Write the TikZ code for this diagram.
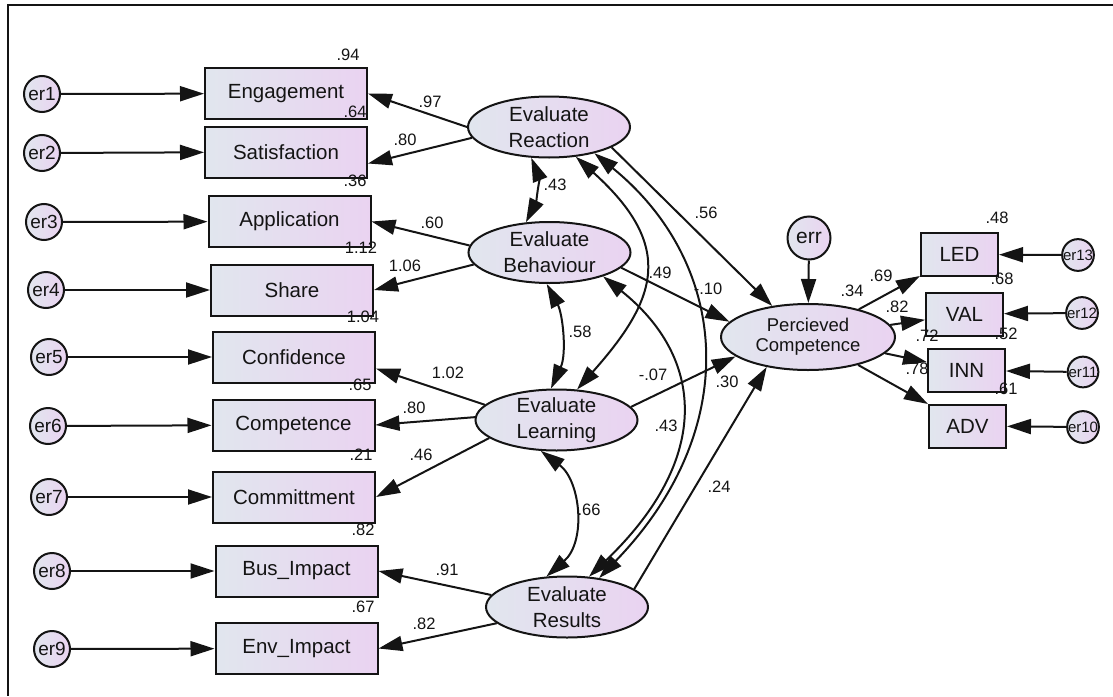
\documentclass[tikz,border=0pt]{standalone}
\usepackage{fontspec}
\setmainfont{Liberation Sans}
\usetikzlibrary{arrows.meta,shapes.geometric}
\definecolor{semblue}{HTML}{E1E6EE}
\definecolor{semlilac}{HTML}{EAD3F1}
\definecolor{semink}{HTML}{141414}

\begin{document}
\begin{tikzpicture}[x=1pt, y=-1pt, line width=2pt, semink,
    >={Triangle[length=24pt, width=15pt]},
    obs/.style={draw, rectangle, inner sep=0pt, minimum width=162pt, minimum height=51pt,
      left color=semblue, right color=semlilac, font=\fontsize{20.5}{24}\selectfont},
    small obs/.style={obs, minimum width=77pt, minimum height=43pt},
    latent/.style={draw, ellipse, inner sep=-1pt, minimum width=162pt, minimum height=61pt,
      align=center, left color=semblue, right color=semlilac, font=\fontsize{20.5}{26}\selectfont},
    errc/.style={draw, circle, inner sep=0pt, minimum size=36pt,
      left color=semblue, right color=semlilac, font=\fontsize{19}{21}\selectfont},
    small errc/.style={errc, minimum size=30pt, font=\fontsize{15}{17}\selectfont},
    est/.style={inner sep=0pt, font=\fontsize{16.5}{18}\selectfont}]
  \useasboundingbox (0,0) rectangle (1113,696);
  \draw[line width=1.5pt] (1113,5) -- (8,5) -- (8,696);

  % latent variables
  \node[latent] (react) at (549,127) {Evaluate\\Reaction};
  \node[latent] (behav) at (549.5,252.5) {Evaluate\\Behaviour};
  \node[latent] (learn) at (556.5,420) {Evaluate\\Learning};
  \node[latent] (res) at (567,607) {Evaluate\\Results};
  \node[latent, minimum width=174pt, minimum height=66pt, font=\fontsize{18.5}{20}\selectfont]
    (pc) at (808,337) {Percieved\\Competence};
  \node[errc, minimum size=43pt, font=\fontsize{21}{23}\selectfont] (err) at (809,238) {err};

  % indicators, left
  \node[obs] (eng) at (286,93.5) {Engagement};
  \node[obs] (sat) at (286,152) {Satisfaction};
  \node[obs] (app) at (289.5,221.5) {Application};
  \node[obs] (share) at (292,290) {Share};
  \node[obs] (conf) at (294,357) {Confidence};
  \node[obs] (comp) at (293.5,425) {Competence};
  \node[obs] (comm) at (294,497) {Committment};
  \node[obs] (bus) at (296.5,571) {Bus\_Impact};
  \node[obs] (env) at (296.5,648.5) {Env\_Impact};

  \node[errc] (er1) at (42,94) {er1};
  \node[errc] (er2) at (42,153) {er2};
  \node[errc] (er3) at (44,222) {er3};
  \node[errc] (er4) at (46,290) {er4};
  \node[errc] (er5) at (49,357) {er5};
  \node[errc] (er6) at (48,426) {er6};
  \node[errc] (er7) at (49,497) {er7};
  \node[errc] (er8) at (52,571) {er8};
  \node[errc] (er9) at (52,649) {er9};

  % indicators, right
  \node[small obs] (led) at (959.5,254.5) {LED};
  \node[small obs] (val) at (964.5,314) {VAL};
  \node[small obs] (inn) at (966.5,370.5) {INN};
  \node[small obs] (adv) at (967.5,426) {ADV};

  \node[small errc] (er13) at (1078,255) {er13};
  \node[small errc] (er12) at (1082,313) {er12};
  \node[small errc] (er11) at (1083,372) {er11};
  \node[small errc] (er10) at (1083,427) {er10};

  % error terms
  \draw[->] (er1) -- (eng);
  \draw[->] (er2) -- (sat);
  \draw[->] (er3) -- (app);
  \draw[->] (er4) -- (share);
  \draw[->] (er5) -- (conf);
  \draw[->] (er6) -- (comp);
  \draw[->] (er7) -- (comm);
  \draw[->] (er8) -- (bus);
  \draw[->] (er9) -- (env);
  \draw[->] (er13) -- (led);
  \draw[->] (er12) -- (val);
  \draw[->] (er11) -- (inn);
  \draw[->] (er10) -- (adv);
  \draw[->] (err) -- (pc);

  % loadings
  \draw[->] (react.180) -- (eng.east);
  \draw[->] (react.-172) -- (sat.-8);
  \draw[->] (behav.175) -- (app.east);
  \draw[->] (behav.-171) -- (share.east);
  \draw[->] (learn.168) -- (conf.-8);
  \draw[->] (learn.178) -- (comp.east);
  \draw[->] (learn.-165) -- (comm.east);
  \draw[->] (res.171) -- (bus.east);
  \draw[->] (res.-167) -- (env.east);
  \draw[->] (pc) -- (led);
  \draw[->] (pc) -- (val);
  \draw[->] (pc) -- (inn);
  \draw[->] (pc) -- (adv);

  % structural paths
  \draw[->] (react.-18) -- (pc.139);
  \draw[->] (behav.-12) -- (pc.169);
  \draw[->] (learn.10) -- (pc.-165);
  \draw[->] (res.15) -- (pc.-144);

  % covariances
  \draw[<->] (react.-120) .. controls +(8,20) and +(10,-20) .. (behav.128);
  \draw[<->] (behav.-95) .. controls +(16,30) and +(16,-35) .. (learn.100);
  \draw[<->] (learn.-117) .. controls +(40,30) and +(40,-35) .. (res.124);
  \draw[<->] (react.-48) .. controls +(100,90) and +(80,-90) .. (learn.56);
  \draw[<->] (react.-30) .. controls +(135,110) and +(145,-150) .. (res.42);
  \draw[<->] (behav.-24) .. controls +(100,80) and +(125,-120) .. (res.54);

  % estimates
  \node[est] (r2eng) at (348,55) {.94};
  \node[est] (r2sat) at (355,112) {.64};
  \node[est] (r2app) at (355,181) {.36};
  \node[est] (r2share) at (361,248) {1.12};
  \node[est] (r2conf) at (363,317) {1.04};
  \node[est] (r2comp) at (360,385) {.65};
  \node[est] (r2comm) at (361,455) {.21};
  \node[est] (r2bus) at (363,530) {.82};
  \node[est] (r2env) at (363,607) {.67};
  \node[est] (ldeng) at (430,102) {.97};
  \node[est] (ldsat) at (405,140) {.80};
  \node[est] (ldapp) at (432,223) {.60};
  \node[est] (ldshare) at (405,266) {1.06};
  \node[est] (ldconf) at (448,373) {1.02};
  \node[est] (ldcomp) at (414,408) {.80};
  \node[est] (ldcomm) at (421,455) {.46};
  \node[est] (ldbus) at (447,570) {.91};
  \node[est] (ldenv) at (424,624) {.82};
  \node[est] (cvrb) at (555,185) {.43};
  \node[est] (cvbl) at (580,332) {.58};
  \node[est] (cvlr) at (589,510) {.66};
  \node[est] (cvrl) at (660,273) {.49};
  \node[est] (pthb) at (708,289) {-.10};
  \node[est] (pthl) at (653,375) {-.07};
  \node[est] (cvrr) at (727,382) {.30};
  \node[est] (cvbr) at (666,426) {.43};
  \node[est] (pthr) at (719,487) {.24};
  \node[est] (pthe) at (706,213) {.56};
  \node[est] (r2pc) at (852,291) {.34};
  \node[est] (ldled) at (881,276) {.69};
  \node[est] (ldval) at (897,307) {.82};
  \node[est] (ldinn) at (927,336) {.72};
  \node[est] (ldadv) at (917,369) {.78};
  \node[est] (r2led) at (997,218) {.48};
  \node[est] (r2val) at (1002,279) {.68};
  \node[est] (r2inn) at (1006,334) {.52};
  \node[est] (r2adv) at (1006,389) {.61};
\end{tikzpicture}
\end{document}
